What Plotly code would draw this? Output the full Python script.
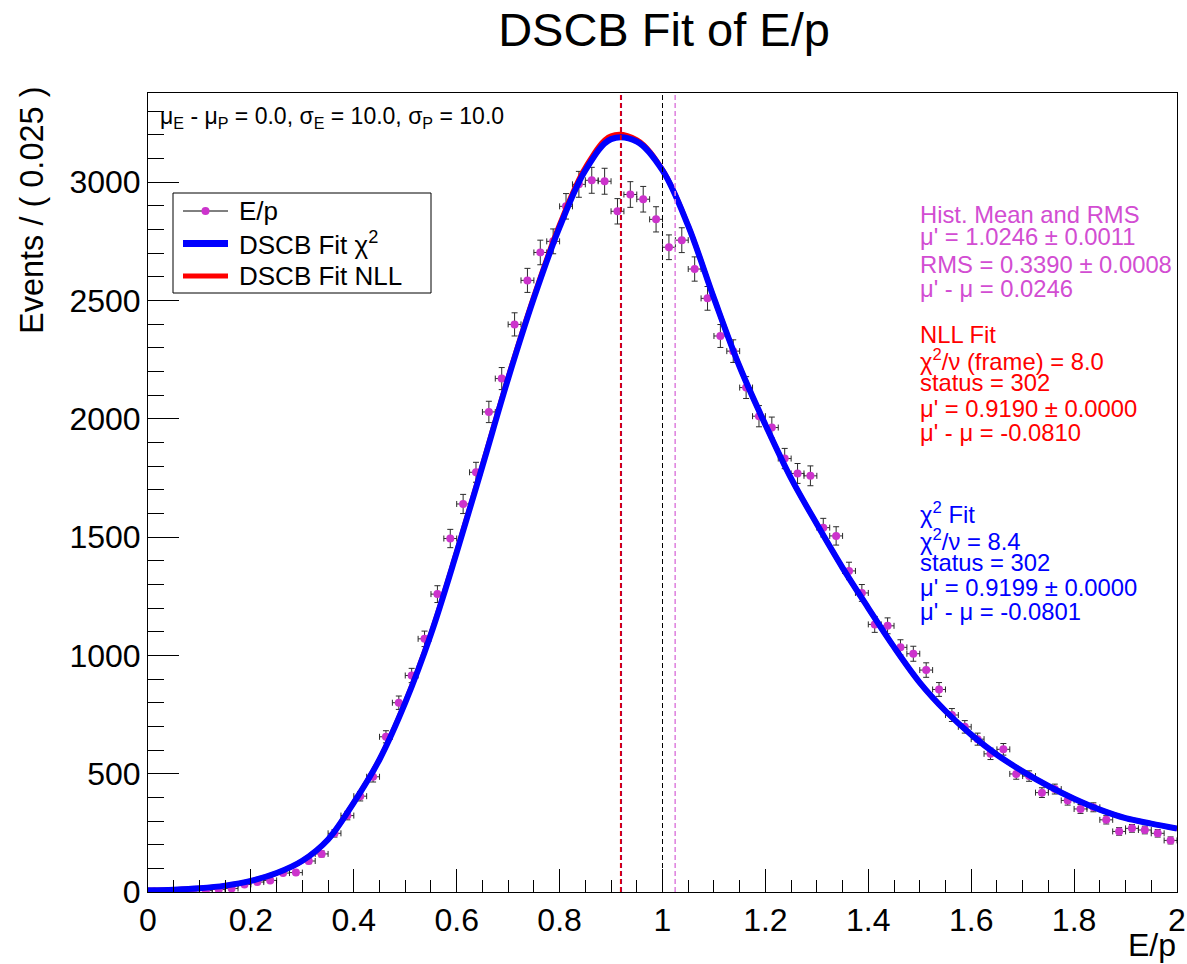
import plotly.graph_objects as go

# ---------------- data ----------------
bin_centers = [0.0125 + 0.025 * i for i in range(80)]
counts = [2, 3, 3, 5, 6, 11, 15, 32, 42, 49,
          80, 82, 131, 161, 248, 323, 405, 487, 656, 800,
          915, 1070, 1259, 1494, 1640, 1774, 2029, 2170, 2399, 2585,
          2703, 2750, 2898, 2991, 3008, 3004, 2877, 2948, 2928, 2843,
          2725, 2755, 2633, 2509, 2350, 2286, 2132, 2011, 1963, 1832,
          1769, 1759, 1540, 1505, 1357, 1264, 1131, 1125, 1034, 1007,
          938, 856, 748, 698, 646, 584, 603, 499, 490, 420,
          435, 387, 351, 358, 305, 256, 269, 262, 248, 218]

curve_x = [0.00, 0.05, 0.10, 0.15, 0.20, 0.25, 0.30, 0.35, 0.40, 0.45,
           0.50, 0.55, 0.60, 0.65, 0.70, 0.75, 0.80, 0.85, 0.90, 0.95,
           1.00, 1.05, 1.10, 1.15, 1.20, 1.25, 1.30, 1.35, 1.40, 1.45,
           1.50, 1.55, 1.60, 1.65, 1.70, 1.75, 1.80, 1.85, 1.90, 1.95, 2.00]
chi2_fit = [7, 10, 16, 27, 47, 80, 132, 222, 378, 560,
            800, 1090, 1435, 1800, 2170, 2510, 2810, 3050, 3182, 3172,
            3050, 2815, 2510, 2220, 1975, 1748, 1555, 1370, 1200, 1035,
            885, 765, 665, 580, 510, 448, 394, 348, 312, 289, 268]
nll_fit = [7, 10, 16, 27, 47, 80, 132, 222, 379, 562,
           803, 1094, 1440, 1806, 2177, 2519, 2822, 3063, 3196, 3180,
           3053, 2816, 2510, 2220, 1975, 1748, 1555, 1370, 1200, 1035,
           885, 765, 665, 580, 510, 448, 394, 348, 312, 289, 268]

mean_nll = 0.9190
mean_chi2 = 0.9199
mean_true = 1.0
mean_hist = 1.0246

x_tick_vals = [0, 0.2, 0.4, 0.6, 0.8, 1.0, 1.2, 1.4, 1.6, 1.8, 2.0]
x_tick_text = ["0", "0.2", "0.4", "0.6", "0.8", "1", "1.2", "1.4", "1.6", "1.8", "2"]
y_tick_vals = [0, 500, 1000, 1500, 2000, 2500, 3000]
y_tick_text = ["0", "500", "1000", "1500", "2000", "2500", "3000"]

legend_labels = ["E/p", "DSCB Fit χ<sup>2</sup>", "DSCB Fit NLL"]

hist_lines = ["Hist. Mean and RMS",
              "μ' = 1.0246 ± 0.0011",
              "RMS = 0.3390 ± 0.0008",
              "μ' - μ = 0.0246"]
nll_lines = ["NLL Fit",
             "χ<sup>2</sup>/ν (frame) = 8.0",
             "status = 302",
             "μ' = 0.9190 ± 0.0000",
             "μ' - μ = -0.0810"]
chi2_lines = ["χ<sup>2</sup> Fit",
              "χ<sup>2</sup>/ν = 8.4",
              "status = 302",
              "μ' = 0.9199 ± 0.0000",
              "μ' - μ = -0.0801"]

# ---------------- layout geometry ----------------
W, H = 1187, 964
L, R, T, B = 148, 10, 93, 72
PW, PH = W - L - R, H - T - B
FONT = "Liberation Sans, Arial, sans-serif"
MAGENTA = "#cc33cc"
MAG_TXT = "#d24dd2"


def px(xp):
    return (xp - L) / PW


def py(yp):
    return (H - B - yp) / PH


fig = go.Figure()

# data points
fig.add_trace(go.Scatter(
    x=bin_centers, y=counts, mode="markers", name="E/p",
    marker=dict(color=MAGENTA, size=8),
    error_y=dict(type="sqrt", color="#2a2a2a", thickness=1, width=3),
    error_x=dict(type="constant", value=0.0125, color="#2a2a2a", thickness=1, width=3),
    showlegend=False))

fig.add_trace(go.Scatter(
    x=curve_x, y=nll_fit, mode="lines", name="DSCB Fit NLL",
    line=dict(color="#ff0000", width=5, shape="spline"), showlegend=False))

fig.add_trace(go.Scatter(
    x=curve_x, y=chi2_fit, mode="lines", name="DSCB Fit χ2",
    line=dict(color="#0000ff", width=6, shape="spline"), showlegend=False))

shapes = []
# vertical dashed lines
for xv, col, wdt in [(mean_chi2, "#0000ff", 1.5), (mean_nll, "#ee0000", 1.8),
                     (mean_true, "#000000", 1), (mean_hist, "#dd7fdd", 1.5)]:
    shapes.append(dict(type="line", xref="x", yref="paper", x0=xv, x1=xv, y0=0, y1=1,
                       line=dict(color=col, width=wdt, dash="5px,3px")))

# legend box (drawn manually to match the ROOT legend)
shapes.append(dict(type="rect", xref="paper", yref="paper",
                   x0=px(173), x1=px(431), y0=py(293), y1=py(193),
                   line=dict(color="black", width=1), fillcolor="white"))
leg_rows = [211, 243.5, 276]
shapes.append(dict(type="line", xref="paper", yref="paper", x0=px(183), x1=px(228),
                   y0=py(leg_rows[0]), y1=py(leg_rows[0]), line=dict(color="black", width=1)))
shapes.append(dict(type="circle", xref="paper", yref="paper",
                   x0=px(201.5), x1=px(209.5), y0=py(leg_rows[0] + 4), y1=py(leg_rows[0] - 4),
                   line=dict(color=MAGENTA, width=0), fillcolor=MAGENTA))
shapes.append(dict(type="line", xref="paper", yref="paper", x0=px(183), x1=px(228),
                   y0=py(leg_rows[1]), y1=py(leg_rows[1]), line=dict(color="#0000ff", width=7)))
shapes.append(dict(type="line", xref="paper", yref="paper", x0=px(183), x1=px(228),
                   y0=py(leg_rows[2]), y1=py(leg_rows[2]), line=dict(color="#ff0000", width=5)))

ann = []
for lab, yy in zip(legend_labels, leg_rows):
    ann.append(dict(xref="paper", yref="paper", x=px(237), y=py(yy),
                    xanchor="left", yanchor="middle", showarrow=False, text=lab,
                    font=dict(family=FONT, size=26, color="black")))

# parameter text top-left
ann.append(dict(xref="paper", yref="paper", x=px(158), y=py(117),
                xanchor="left", yanchor="middle", showarrow=False,
                text="μ<sub>E</sub> - μ<sub>P</sub> = 0.0, σ<sub>E</sub> = 10.0, σ<sub>P</sub> = 10.0",
                font=dict(family=FONT, size=23, color="black")))

hist_y = [214, 237, 264, 288]
nll_y = [334, 360, 382, 408, 432]
chi2_y = [513, 540, 562, 587, 611]
for lines, ys, col in [(hist_lines, hist_y, MAG_TXT), (nll_lines, nll_y, "#ff0000"),
                       (chi2_lines, chi2_y, "#0000ff")]:
    for t, yy in zip(lines, ys):
        ann.append(dict(xref="paper", yref="paper", x=px(918), y=py(yy),
                        xanchor="left", yanchor="middle", showarrow=False, text=t,
                        font=dict(family=FONT, size=23.8, color=col)))

# axis titles
ann.append(dict(xref="paper", yref="paper", x=px(1178), y=py(945),
                xanchor="right", yanchor="middle", showarrow=False, text="E/p",
                font=dict(family=FONT, size=32, color="black")))
ann.append(dict(xref="paper", yref="paper", x=px(32), y=py(211),
                xanchor="center", yanchor="middle", showarrow=False, textangle=-90,
                text="Events / ( 0.025 )",
                font=dict(family=FONT, size=32.5, color="black")))

fig.update_layout(
    width=W, height=H,
    margin=dict(l=L, r=R, t=T, b=B, autoexpand=False),
    paper_bgcolor="white", plot_bgcolor="white",
    title=dict(text="DSCB Fit of E/p", x=664 / W, xanchor="center",
               y=1 - 30 / H, yanchor="middle", yref="container",
               font=dict(family=FONT, size=47, color="black")),
    font=dict(family=FONT, color="black"),
    showlegend=False,
    shapes=shapes,
    annotations=ann,
)

fig.update_xaxes(range=[0, 2], showgrid=False, zeroline=False, automargin=False,
                 showline=True, linecolor="black", linewidth=1, mirror=True,
                 ticks="inside", ticklen=23, tickcolor="black", tickwidth=1,
                 tickvals=x_tick_vals, ticktext=x_tick_text,
                 tickfont=dict(family=FONT, size=32, color="black"),
                 minor=dict(dtick=0.05, tick0=0, ticks="inside", ticklen=12,
                            tickcolor="black", tickwidth=1, showgrid=False))
fig.update_yaxes(range=[0, 3377], showgrid=False, zeroline=False, automargin=False,
                 showline=True, linecolor="black", linewidth=1, mirror=True,
                 ticks="inside", ticklen=31, tickcolor="black", tickwidth=1,
                 tickvals=y_tick_vals, ticktext=y_tick_text,
                 tickfont=dict(family=FONT, size=32, color="black"),
                 minor=dict(dtick=100, tick0=0, ticks="inside", ticklen=16,
                            tickcolor="black", tickwidth=1, showgrid=False))

fig.write_html("out.html")
